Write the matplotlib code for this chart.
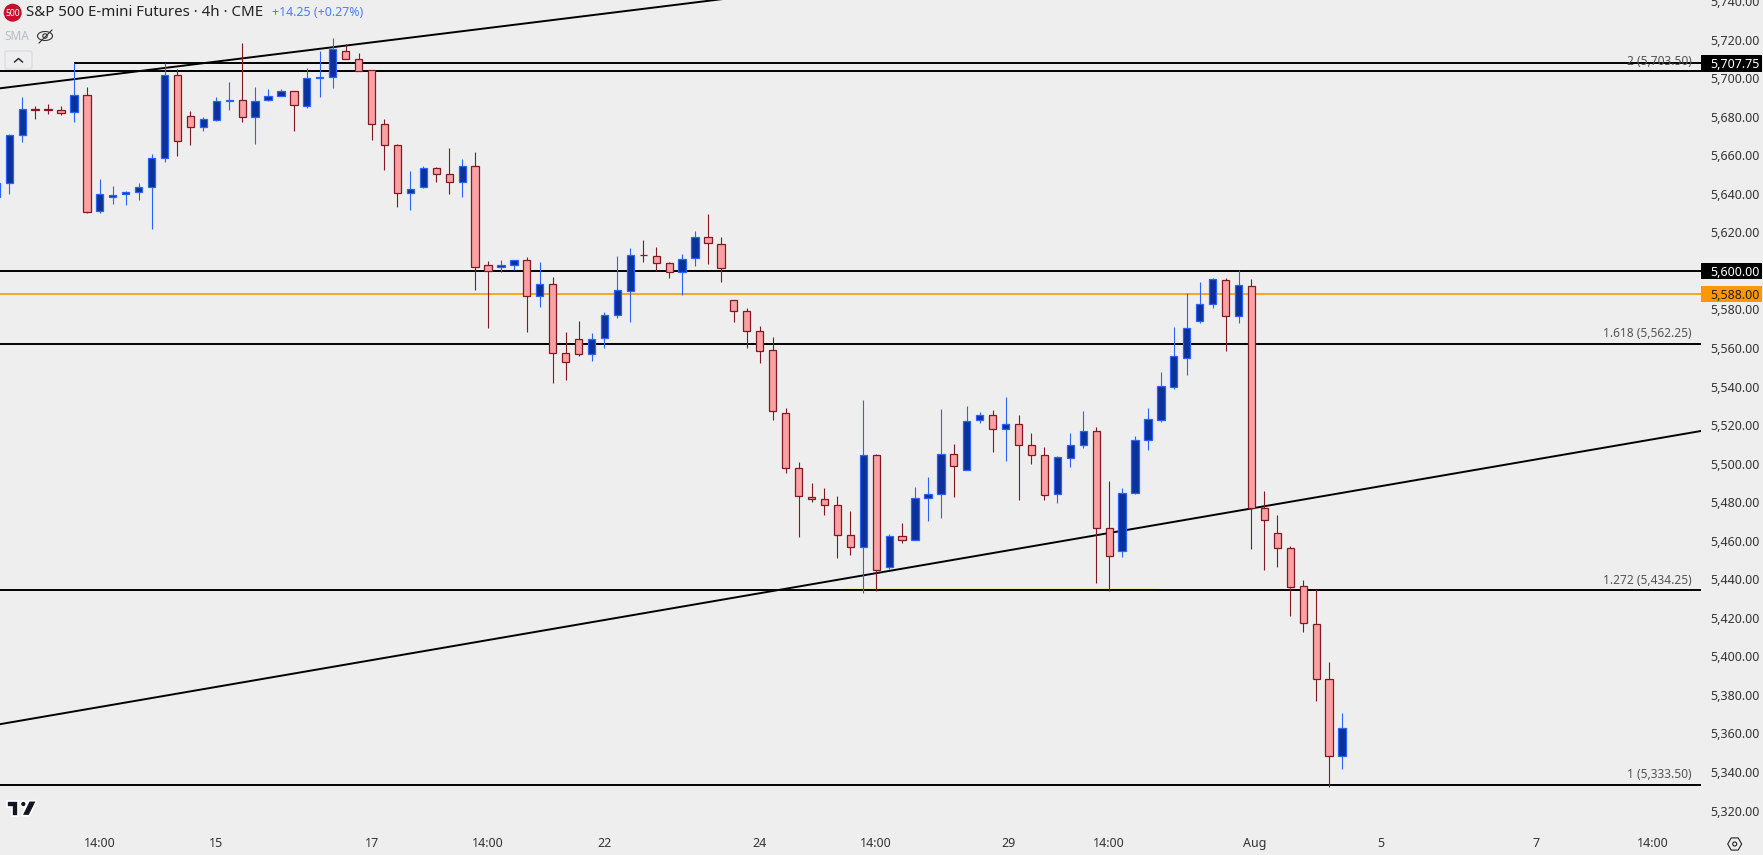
import numpy as np
import matplotlib
matplotlib.use("Agg")
import matplotlib.pyplot as plt
from matplotlib.patches import Circle, Ellipse, FancyBboxPatch, Polygon, Rectangle, RegularPolygon

plt.rcParams['font.family'] = ['Noto Sans', 'DejaVu Sans']

opens = [5638.5, 5645.5, 5670.75, 5684, 5683.75, 5683.25, 5682.25, 5691.5, 5631, 5638.25,
         5639.75, 5640.75, 5643.75, 5658.5, 5701.5, 5680.5, 5674.5, 5678.5, 5688.25, 5688.5,
         5680, 5688.5, 5690.5, 5693.25, 5685.75, 5700, 5700.75, 5714.25, 5710, 5704,
         5676, 5665.25, 5640.25, 5643.75, 5653.25, 5650.5, 5646, 5654.25, 5603, 5602.25,
         5603, 5605.5, 5586.75, 5593, 5557.25, 5564.5, 5556.75, 5565, 5577, 5589.5,
         5608.5, 5607.5, 5604, 5599.25, 5606.5, 5617.5, 5613.75, 5584.75, 5579, 5568.75,
         5558.75, 5526.5, 5497.5, 5482.5, 5481.5, 5478.5, 5462.75, 5457, 5504.25, 5446.25,
         5462.25, 5460.25, 5482, 5484.5, 5505.25, 5496.5, 5522.5, 5525.5, 5517.75, 5520.5,
         5509.5, 5504.25, 5484, 5502.75, 5509.5, 5516.75, 5466.5, 5454.5, 5485, 5512.5,
         5522.5, 5540, 5555, 5574.25, 5583, 5595.5, 5576.5, 5592, 5476.75, 5464.25,
         5456, 5436.75, 5416.75, 5388.5, 5348.25]
highs = [5645.75, 5671.25, 5690.25, 5685.5, 5686.5, 5685.5, 5707.75, 5695.5, 5647.75, 5644,
         5641.25, 5645.5, 5660.75, 5707.75, 5705, 5683, 5679.75, 5690, 5698, 5718.25,
         5695.5, 5694.5, 5694.25, 5693.25, 5705.25, 5714.25, 5720.75, 5717.75, 5713, 5704,
         5678.75, 5665.75, 5651.75, 5654.5, 5654, 5663.75, 5658, 5661.75, 5605, 5605.75,
         5605.75, 5607.25, 5604.5, 5596.75, 5568.25, 5574, 5567.75, 5578.75, 5607.75, 5612,
         5616, 5612.5, 5604.5, 5608.75, 5620.75, 5629.5, 5617.5, 5584.75, 5580.75, 5571.5,
         5565.75, 5529, 5500.75, 5490, 5487.25, 5483.25, 5475.5, 5533, 5505, 5463.5,
         5469.25, 5488, 5493, 5528.25, 5510.25, 5530, 5526.75, 5527.75, 5534.5, 5525.25,
         5516, 5508.75, 5503.75, 5516, 5527.25, 5519, 5491, 5487.25, 5514.25, 5529,
         5547.5, 5571, 5588.5, 5594.25, 5596.25, 5596.25, 5600.5, 5595.75, 5485.75, 5473.25,
         5457.25, 5439.75, 5435, 5397, 5370.75]
lows = [5638.5, 5640, 5667, 5679, 5681.5, 5681, 5677.5, 5630.25, 5630.25, 5634.75,
        5634.25, 5636.75, 5621.5, 5656.25, 5659.75, 5665.5, 5672.5, 5678, 5683.25, 5677,
        5666, 5688, 5690.5, 5672.75, 5684.75, 5690.25, 5695, 5710, 5703.5, 5668,
        5652.5, 5633.25, 5631.75, 5643.25, 5646.25, 5640, 5638.5, 5590.25, 5570.5, 5599.5,
        5600.5, 5568.5, 5581.5, 5542, 5543.5, 5556, 5553.5, 5560.25, 5575.75, 5573.25,
        5604.75, 5600, 5596.5, 5587.75, 5602.75, 5603.75, 5594, 5573.75, 5560.25, 5552,
        5522.75, 5495.25, 5462, 5480.25, 5473.5, 5451.25, 5452.75, 5433, 5433.75, 5445.25,
        5459, 5460.25, 5470.5, 5472, 5482.75, 5496.5, 5521.25, 5506.25, 5501.5, 5481.25,
        5500, 5481.25, 5479.75, 5498.5, 5508.25, 5438.25, 5433.75, 5451.75, 5484.5, 5507.25,
        5521.75, 5538.5, 5545.75, 5573, 5581, 5558.5, 5573, 5455.5, 5445, 5446.5,
        5421, 5412.75, 5377, 5332.5, 5341.75]
closes = [5645.75, 5670.75, 5684.25, 5683.25, 5683.25, 5682, 5691.5, 5630.75, 5639.75, 5639.5,
          5640.75, 5643.75, 5658.5, 5701.5, 5667.25, 5674.5, 5678.75, 5688, 5688.75, 5680,
          5688, 5690.5, 5693.25, 5686, 5700, 5700.75, 5715, 5710, 5703.5, 5676,
          5665.25, 5640.25, 5642.75, 5653.25, 5650.5, 5646, 5654.25, 5602.25, 5599.75, 5603,
          5605.5, 5586.75, 5593, 5557.25, 5552.5, 5556.75, 5564.5, 5577, 5590, 5608,
          5608.25, 5604, 5599.25, 5606, 5617.5, 5614.25, 5601.75, 5579, 5568.75, 5558.25,
          5527.25, 5497.5, 5483, 5481.5, 5478.5, 5462.75, 5456.5, 5504.25, 5444.75, 5462.25,
          5460.25, 5482, 5484, 5504.75, 5499, 5522, 5525, 5517.75, 5520.5, 5509.5,
          5504.25, 5483.5, 5503.25, 5509.5, 5516.75, 5466.5, 5452, 5485, 5512.5, 5523,
          5540.5, 5555.75, 5570.25, 5583, 5596, 5576.5, 5592.5, 5476.75, 5471, 5456,
          5436.25, 5417.25, 5388.5, 5348.25, 5362.75]

price_ticks = list(range(5320, 5741, 20))
time_ticks = [8, 17, 29, 38, 47, 59, 68, 78.25, 86, 97.25, 107, 119, 128]
time_labels = ['14:00', '15', '17', '14:00', '22', '24', '14:00', '29', '14:00', 'Aug', '5', '7', '14:00']

full_levels = [5703.5, 5600, 5562.25, 5434.25, 5333.5]
fib_levels = [5703.5, 5562.25, 5434.25, 5333.5]
fib_names = ['2', '1.618', '1.272', '1']
swing_start, swing_level = 6, 5707.75
last_price = 5588
trend_upper_x, trend_upper_y = [0, 60], [5694.5, 5744.25]
trend_lower_x, trend_lower_y = [0, 132], [5364.5, 5517.25]
zone_x, zone_y = [65.5, 89.8], [5435.5, 5435.5]

BG = '#EEEEEE'
UP_FILL, UP_EDGE = '#0C3299', '#2962FF'
DOWN_FILL, DOWN_EDGE = '#FAA1A4', '#801922'
W, H = 1763, 855
PANE_W, PANE_H = 1701, 820

fig = plt.figure(figsize=(W / 100, H / 100), dpi=100, facecolor=BG)
ax = fig.add_axes([0, 1 - PANE_H / H, PANE_W / W, PANE_H / H], facecolor=BG)
ax.set_xlim(0.286, 131.74)
ax.set_ylim(5315.12, 5740.55)
for s in ax.spines.values():
    s.set_visible(False)

# levels and trend lines
for lvl in full_levels:
    ax.axhline(lvl, color='black', lw=1.4, zorder=2)
ax.hlines(swing_level, swing_start, 131.74, color='black', lw=1.4, zorder=2)
ax.axhline(last_price, color='#FF9800', lw=1.2, zorder=2)
ax.plot(trend_upper_x, trend_upper_y, color='black', lw=1.4, zorder=2)
ax.plot(trend_lower_x, trend_lower_y, color='black', lw=1.4, zorder=2)
ax.plot(zone_x, zone_y, color='#F5EBA0', lw=1, zorder=1.8)

# candles
idx = np.arange(len(opens))
o, h, l, c = map(np.array, (opens, highs, lows, closes))
up = c >= o
ax.vlines(idx[up], l[up], h[up], color=UP_EDGE, lw=0.8, zorder=3)
ax.vlines(idx[~up], l[~up], h[~up], color=DOWN_EDGE, lw=0.8, zorder=3)
ax.bar(idx[up], (c - o)[up], bottom=o[up], width=0.56, color=UP_FILL, edgecolor=UP_EDGE, lw=0.9, zorder=4)
ax.bar(idx[~up], (o - c)[~up], bottom=c[~up], width=0.56, color=DOWN_FILL, edgecolor=DOWN_EDGE, lw=0.9, zorder=4)

# axes
ax.yaxis.tick_right()
ax.set_yticks(price_ticks)
ax.set_yticklabels([f'{p:,.2f}' for p in price_ticks])
ax.set_xticks(time_ticks)
ax.set_xticklabels(time_labels)
ax.tick_params(axis='y', length=0, pad=7, labelsize=9, labelcolor='#333333')
ax.tick_params(axis='x', length=0, pad=12.5, labelsize=9, labelcolor='#333333')

# fib labels
tr = ax.get_yaxis_transform()
for name, lvl in zip(fib_names, fib_levels):
    ax.annotate(f'{name} ({lvl:,.2f})', xy=(1692 / PANE_W, lvl), xycoords=tr, xytext=(0, 10),
                textcoords='offset pixels', ha='right', va='center', fontsize=8.6, color='#555555', zorder=5)

# price tags
for price, bg, fg, weight in [(5707.75, 'black', 'white', 'bold'), (5600, 'black', 'white', 'bold'),
                              (5588, '#FF9800', '#222222', 'normal')]:
    ax.add_patch(Rectangle((1, price - 4.33), 61 / PANE_W, 8.66, transform=tr, facecolor=bg,
                           edgecolor='none', clip_on=False, zorder=6))
    ax.text(1 + 9.7 / PANE_W, price, f'{price:,.2f}', transform=tr, ha='left', va='center_baseline',
            fontsize=9, color=fg, fontweight=weight, zorder=7, clip_on=False)

# header and toolbar bits, in pixel space
ui = fig.add_axes([0, 0, 1, 1], facecolor='none')
ui.set_xlim(0, W)
ui.set_ylim(H, 0)
ui.axis('off')
ui.add_patch(Circle((12.7, 12.7), 9, facecolor='#C8102E', edgecolor='none'))
ui.text(12.7, 13, '500', color='white', fontsize=6.2, ha='center', va='center', fontweight='bold')
ui.text(26, 12.5, 'S&P 500 E-mini Futures · 4h · CME', fontsize=10.8, color='#222222', ha='left', va='center')
ui.text(272, 12.5, '+14.25 (+0.27%)', fontsize=8.9, color='#4C7DF5', ha='left', va='center')
ui.text(4, 36.5, 'SMA', fontsize=8.6, color='#B8BCC6', ha='left', va='center')
ui.add_patch(Ellipse((45, 36), 15, 9, fill=False, edgecolor='#333333', lw=0.8))
ui.add_patch(Circle((45, 36), 2.2, fill=False, edgecolor='#333333', lw=0.8))
ui.plot([39, 52], [43, 30], color='#333333', lw=0.8)
ui.add_patch(FancyBboxPatch((5, 51), 27, 18, boxstyle='round,pad=0,rounding_size=2',
                            facecolor=BG, edgecolor='#D8DAE2', lw=0.8))
ui.plot([14.5, 18.5, 22.5], [62, 58.5, 62], color='#222222', lw=1)

# tradingview mark
logo = dict(facecolor='#131722', edgecolor='white', lw=1.2, joinstyle='miter')
ui.add_patch(Polygon([(6.7, 800.7), (18.3, 800.7), (18.3, 815.7), (11.7, 815.7), (11.7, 807.3), (6.7, 807.3)], **logo))
ui.add_patch(Circle((23.3, 804), 3, **{k: v for k, v in logo.items() if k != 'joinstyle'}))
ui.add_patch(Polygon([(29, 800.7), (36.7, 800.7), (29.3, 815.7), (21.7, 815.7)], **logo))

# settings hexagon
ui.add_patch(RegularPolygon((1734.7, 844), 6, radius=7, orientation=np.pi / 2, fill=False, edgecolor='#222222', lw=0.8))
ui.add_patch(Circle((1734.7, 844), 2, fill=False, edgecolor='#222222', lw=0.8))

fig.savefig('out.png', dpi=100, facecolor=BG)
